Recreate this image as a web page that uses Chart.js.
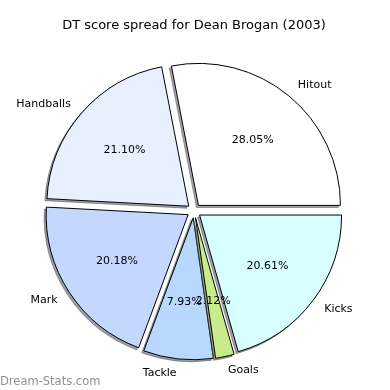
<!DOCTYPE html>
<html>
<head>
<meta charset="utf-8">
<script src="https://cdn.jsdelivr.net/npm/chart.js@4.4.1/dist/chart.umd.min.js"></script>
<style>
  html, body { margin: 0; padding: 0; background: #fff; }
  #wrap { width: 390px; height: 390px; position: relative; }
</style>
</head>
<body>
<div id="wrap"><canvas id="pieChart"></canvas></div>
<script>
// slices in clockwise order starting at 3 o'clock
const categories = ["Kicks", "Goals", "Tackle", "Mark", "Handballs", "Hitout"];
const shares = [20.61, 2.12, 7.93, 20.18, 21.10, 28.05];
const sliceColors = ["#d8ffff", "#c8ec8c", "#b8d8ff", "#c4d8ff", "#e8f0ff", "#ffffff"];
const chartTitle = "DT score spread for Dean Brogan (2003)";
const watermark = "Dream-Stats.com";

const FONT = "'DejaVu Sans', sans-serif";
const EXPLODE = 7;
const SHADOW_DX = -2;
const SHADOW_DY = 2;

function shadowColor(hex) {
  const n = parseInt(hex.slice(1), 16);
  const r = Math.round(((n >> 16) & 255) * 0.3);
  const g = Math.round(((n >> 8) & 255) * 0.3);
  const b = Math.round((n & 255) * 0.3);
  return `rgba(${r},${g},${b},0.5)`;
}

function drawArcAt(ctx, arc, dx, dy, color) {
  const orig = arc.options;
  if (color) {
    arc.options = Object.assign({}, orig, { backgroundColor: color, borderColor: color });
  }
  ctx.save();
  ctx.translate(dx, dy);
  arc.draw(ctx);
  ctx.restore();
  arc.options = orig;
}

const explodePlugin = {
  id: "explodedSlices",
  beforeDatasetDraw(chart, args) {
    const ctx = chart.ctx;
    const arcs = args.meta.data;
    for (let i = arcs.length - 1; i >= 0; i--) {
      const arc = arcs[i];
      const mid = (arc.startAngle + arc.endAngle) / 2;
      const ex = Math.cos(mid) * EXPLODE;
      const ey = Math.sin(mid) * EXPLODE;
      drawArcAt(ctx, arc, ex + SHADOW_DX, ey + SHADOW_DY, shadowColor(sliceColors[i]));
      drawArcAt(ctx, arc, ex, ey);
    }
    return false;
  },
  afterDatasetsDraw(chart) {
    const ctx = chart.ctx;
    const arcs = chart.getDatasetMeta(0).data;
    ctx.save();
    ctx.font = `11px ${FONT}`;
    ctx.fillStyle = "#000";
    ctx.textBaseline = "middle";
    arcs.forEach((arc, i) => {
      const { x, y, startAngle, endAngle, outerRadius } =
        arc.getProps(["x", "y", "startAngle", "endAngle", "outerRadius"], true);
      const mid = (startAngle + endAngle) / 2;
      const c = Math.cos(mid);
      const s = Math.sin(mid);
      const lr = EXPLODE + 1.1 * outerRadius;
      const pr = EXPLODE + 0.6 * outerRadius;
      ctx.textAlign = c > 0 ? "left" : "right";
      ctx.fillText(categories[i], x + lr * c, y + lr * s);
      ctx.textAlign = "center";
      ctx.fillText(shares[i].toFixed(2) + "%", x + pr * c, y + pr * s);
    });
    ctx.restore();
  },
  afterDraw(chart) {
    const ctx = chart.ctx;
    ctx.save();
    ctx.font = `11.5px ${FONT}`;
    ctx.fillStyle = "#909090";
    ctx.textAlign = "left";
    ctx.textBaseline = "alphabetic";
    ctx.fillText(watermark, 0, 385);
    ctx.restore();
  },
};

new Chart(document.getElementById("pieChart"), {
  type: "pie",
  data: {
    labels: categories,
    datasets: [
      {
        data: shares,
        backgroundColor: sliceColors,
        borderColor: "#000",
        borderWidth: 1,
        borderJoinStyle: "miter",
        hoverOffset: 0,
      },
    ],
  },
  options: {
    responsive: true,
    maintainAspectRatio: false,
    animation: false,
    events: [],
    rotation: 90,
    radius: 142,
    layout: { padding: { top: 0, right: 2, bottom: 2, left: 0 } },
    plugins: {
      legend: { display: false },
      tooltip: { enabled: false },
      title: {
        display: true,
        text: chartTitle,
        color: "#000",
        font: { family: FONT, size: 13, weight: "normal" },
        padding: { top: 18, bottom: 0 },
      },
    },
  },
  plugins: [explodePlugin],
});
</script>
</body>
</html>
